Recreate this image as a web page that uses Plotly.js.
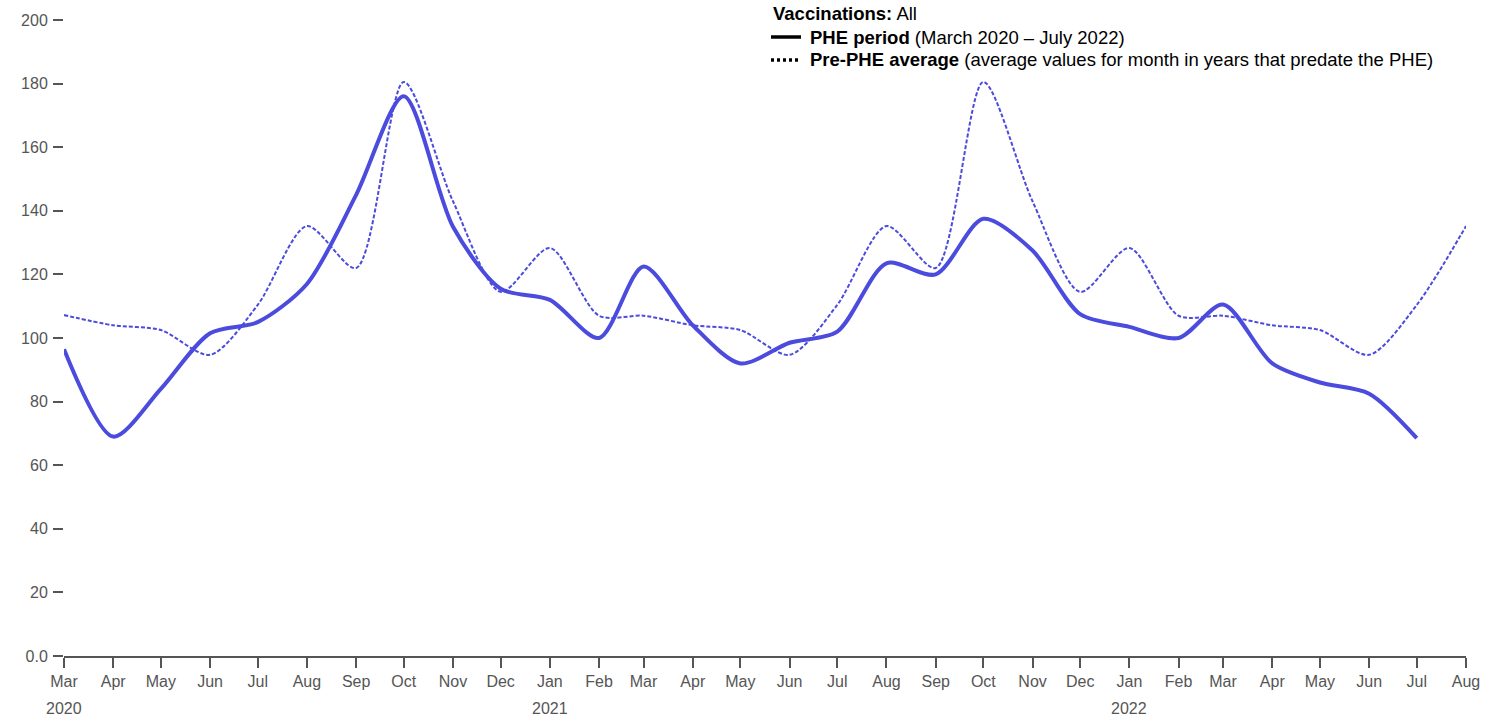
<!DOCTYPE html>
<html>
<head>
<meta charset="utf-8">
<script src="https://cdn.plot.ly/plotly-3.0.1.min.js"></script>
<style>
  html, body { margin: 0; padding: 0; background: #fff; }
  #chart { width: 1486px; height: 718px; }
</style>
</head>
<body>
<div id="chart"></div>
<script>
// Months from March 2020 to August 2022
const months = [
  '2020-03-01','2020-04-01','2020-05-01','2020-06-01','2020-07-01','2020-08-01','2020-09-01','2020-10-01','2020-11-01','2020-12-01',
  '2021-01-01','2021-02-01','2021-03-01','2021-04-01','2021-05-01','2021-06-01','2021-07-01','2021-08-01','2021-09-01','2021-10-01','2021-11-01','2021-12-01',
  '2022-01-01','2022-02-01','2022-03-01','2022-04-01','2022-05-01','2022-06-01','2022-07-01','2022-08-01'
];
const tickLabels = [
  'Mar','Apr','May','Jun','Jul','Aug','Sep','Oct','Nov','Dec',
  'Jan','Feb','Mar','Apr','May','Jun','Jul','Aug','Sep','Oct','Nov','Dec',
  'Jan','Feb','Mar','Apr','May','Jun','Jul','Aug'
];
const yearLabels = ['2020', '2021', '2022'];
const yearPositions = ['2020-03-01', '2021-01-01', '2022-01-01'];
// PHE period (Mar 2020 - Jul 2022)
const phePeriod = [
  96.5, 69, 84, 101.5, 105, 117, 145, 176, 135, 115.5,
  112, 100, 122.5, 104, 92, 98.5, 102, 123.5, 120, 137.5, 127.5, 107.5,
  103.5, 100, 110.5, 92, 86, 82.5, 68.5
];
// Pre-PHE average (Mar 2020 - Aug 2022)
const prePheAverage = [
  107.2, 104, 102.5, 94.7, 110.4, 135.2, 122, 180.5, 143, 114.5,
  128.3, 107, 107, 104, 102.5, 94.7, 110.4, 135.2, 122, 180.5, 143, 114.5,
  128.3, 107, 107, 104, 102.5, 94.7, 110.4, 135.2
];
const yTickVals = [0, 20, 40, 60, 80, 100, 120, 140, 160, 180, 200];
const yTickText = ['0.0', '20', '40', '60', '80', '100', '120', '140', '160', '180', '200'];

const lineColor = 'rgb(75,75,222)';
const axisGray = '#555';

const traces = [
  {
    x: months.slice(0, phePeriod.length), y: phePeriod,
    type: 'scatter', mode: 'lines',
    line: { color: lineColor, width: 4, shape: 'spline', smoothing: 0.8 },
    hoverinfo: 'x+y', showlegend: false
  },
  {
    x: months, y: prePheAverage,
    type: 'scatter', mode: 'lines',
    line: { color: lineColor, width: 2, dash: '4px,2px', shape: 'spline', smoothing: 0.8 },
    hoverinfo: 'x+y', showlegend: false
  }
];

const L = 64, R = 20, T = 20, B = 62;
const W = 1486, H = 718;
const pw = W - L - R, ph = H - T - B;
function px(x) { return (x - L) / pw; }
function py(y) { return (H - B - y) / ph; }

const font = "Arial, 'Liberation Sans', Helvetica, sans-serif";
const legendSize = 18.5;

const annotations = [
  { xref: 'paper', yref: 'paper', x: px(771), y: py(14), xanchor: 'left', yanchor: 'middle',
    showarrow: false, text: '<b>Vaccinations:</b> All', font: { family: font, size: legendSize, color: '#000' } },
  { xref: 'paper', yref: 'paper', x: px(808), y: py(37), xanchor: 'left', yanchor: 'middle',
    showarrow: false, text: '<b>PHE period</b> (March 2020 – July 2022)', font: { family: font, size: legendSize, color: '#000' } },
  { xref: 'paper', yref: 'paper', x: px(808), y: py(60), xanchor: 'left', yanchor: 'middle',
    showarrow: false, text: '<b>Pre-PHE average</b> (average values for month in years that predate the PHE)', font: { family: font, size: legendSize, color: '#000' } }
];
yearLabels.forEach((yr, i) => {
  annotations.push({
    xref: 'x', yref: 'paper', x: yearPositions[i], y: py(708), xanchor: 'center', yanchor: 'middle',
    showarrow: false, text: yr, font: { family: font, size: 16, color: axisGray }
  });
});

const layout = {
  width: W, height: H,
  margin: { l: L, r: R, t: T, b: B },
  paper_bgcolor: '#fff', plot_bgcolor: '#fff',
  font: { family: font, size: 14, color: axisGray },
  showlegend: false,
  xaxis: {
    type: 'date',
    range: [months[0], months[months.length - 1]],
    tickvals: months, ticktext: tickLabels,
    ticks: 'outside', ticklen: 10, tickwidth: 2, tickcolor: axisGray,
    showline: true, linecolor: axisGray, linewidth: 2,
    showgrid: false, zeroline: false,
    tickfont: { family: font, size: 16, color: axisGray },
    fixedrange: true
  },
  yaxis: {
    range: [0, 200],
    tickvals: yTickVals, ticktext: yTickText,
    ticks: 'outside', ticklen: 10, tickwidth: 2, tickcolor: axisGray,
    ticklabelstandoff: 2,
    showline: false, showgrid: false, zeroline: false,
    tickfont: { family: font, size: 16, color: axisGray },
    fixedrange: true
  },
  shapes: [
    { type: 'line', xref: 'paper', yref: 'paper', x0: px(771), x1: px(801), y0: py(37), y1: py(37),
      line: { color: '#000', width: 3.5 } },
    { type: 'line', xref: 'paper', yref: 'paper', x0: px(771), x1: px(800), y0: py(60), y1: py(60),
      line: { color: '#000', width: 3.5, dash: '3px,3px' } }
  ],
  annotations: annotations
};

Plotly.newPlot('chart', traces, layout, { displayModeBar: false });
</script>
</body>
</html>
